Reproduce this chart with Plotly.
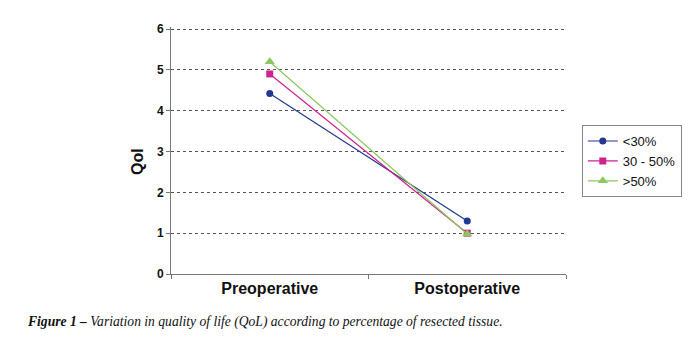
import plotly.graph_objects as go

categories = ["Preoperative", "Postoperative"]
series_names = ["<30%", "30 - 50%", ">50%"]
lt30 = [4.42, 1.3]
mid = [4.9, 1.0]
gt50 = [5.2, 0.98]
y_ticks = [0, 1, 2, 3, 4, 5, 6]

colors = ["#22378F", "#D0228C", "#8CC861"]
symbols = ["circle", "square", "triangle-up"]
sizes = [7, 7, 9]

fig = go.Figure()
for name, vals, c, s, sz in zip(series_names, [lt30, mid, gt50], colors, symbols, sizes):
    fig.add_trace(go.Scatter(
        x=categories, y=vals, name=name, mode="lines+markers",
        line=dict(color=c, width=1.2),
        marker=dict(symbol=s, size=sz, color=c),
    ))

fig.update_layout(
    width=700, height=352,
    margin=dict(l=171, r=134, t=27, b=78),
    paper_bgcolor="white", plot_bgcolor="white",
    font=dict(family="Liberation Sans, Arial", color="#111"),
    legend=dict(
        x=1.04, y=0.603, xanchor="left", yanchor="top",
        bordercolor="#888", borderwidth=1, bgcolor="white",
        font=dict(size=13, family="Liberation Sans, Arial", color="#111"),
        tracegroupgap=0,
    ),
    showlegend=True,
)

fig.update_xaxes(
    type="category", range=[-0.5, 1.5],
    showline=True, linecolor="#777", linewidth=1,
    ticks="outside", tickson="boundaries", ticklen=4, tickcolor="#777",
    showgrid=False,
    tickfont=dict(size=16, family="Liberation Sans, Arial", color="#111", weight="bold"),
)
fig.update_yaxes(
    range=[0, 6.05], tickvals=y_ticks,
    showline=True, linecolor="#777", linewidth=1,
    ticks="outside", ticklen=4, tickcolor="#777",
    showgrid=True, gridcolor="#555", griddash="dot", gridwidth=1,
    zeroline=False,
    tickfont=dict(size=12, family="Liberation Sans, Arial", color="#111", weight="bold"),
)

fig.add_annotation(
    text="<b>Qol</b>", textangle=-90, xref="paper", yref="paper",
    x=(138 - 171) / 395, y=(274 - 162) / 247, xanchor="center", yanchor="middle",
    showarrow=False, font=dict(size=16, family="Liberation Sans, Arial", color="#111"),
)
fig.add_annotation(
    text="<b><i>Figure 1 –</i></b><i> Variation in quality of life (QoL) according to percentage of resected tissue.</i>",
    xref="paper", yref="paper",
    x=(25 - 171) / 395, y=(274 - 322) / 247, xanchor="left", yanchor="middle",
    showarrow=False, font=dict(size=13.6, family="Liberation Serif, Times New Roman", color="#111"),
)

fig.write_html("out.html")
